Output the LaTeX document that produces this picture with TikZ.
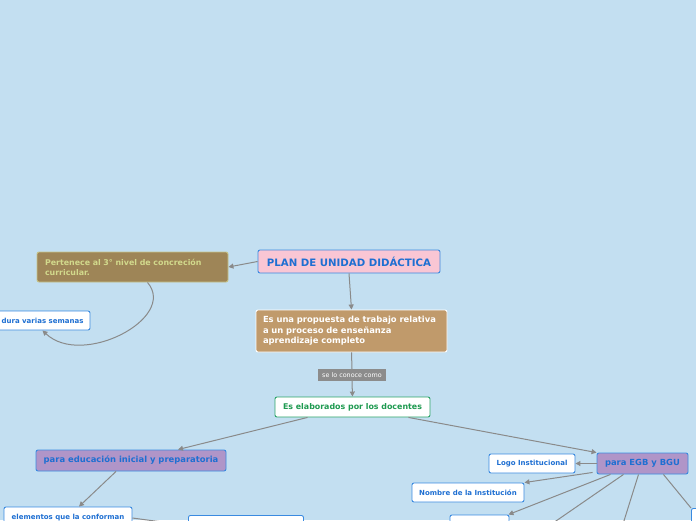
\documentclass[tikz,border=0pt]{standalone}
\usepackage{fontspec}
\setmainfont{DejaVu Sans}
\usetikzlibrary{arrows.meta,calc}
\definecolor{bg}{HTML}{C3DFF1}
\definecolor{bblue}{HTML}{3A8AE0}
\definecolor{tblue}{HTML}{1E6FD2}
\definecolor{pinkf}{HTML}{F9C6D4}
\definecolor{olivef}{HTML}{9E8557}
\definecolor{olivet}{HTML}{D2D98C}
\definecolor{olived}{HTML}{C6C48A}
\definecolor{tanf}{HTML}{C09A6B}
\definecolor{purplef}{HTML}{B095C8}
\definecolor{greenb}{HTML}{2AA468}
\definecolor{greent}{HTML}{1E9A50}
\definecolor{linec}{HTML}{8A8A8A}
\definecolor{labf}{HTML}{8C8C8C}
\tikzset{
  box/.style={draw, rounded corners=2pt, line width=0.9pt, inner sep=0pt, font=\bfseries},
  whitebox/.style={box, draw=bblue, fill=white, text=tblue, font=\bfseries\fontsize{7}{8}\selectfont},
  purplebox/.style={box, draw=bblue, fill=purplef, text=tblue, font=\bfseries\fontsize{8.4}{10}\selectfont},
  conn/.style={draw=linec, line width=1pt, -{Triangle[length=5pt,width=5pt]}},
  plain/.style={draw=linec, line width=1pt},
}
\begin{document}
\begin{tikzpicture}[x=1pt,y=-1pt]
\useasboundingbox (0,0) rectangle (696,520);
\clip (0,0) rectangle (696,520);
\fill[bg] (0,0) rectangle (696,520);

\node[box, draw=bblue, fill=pinkf, text=tblue, minimum width=182pt, minimum height=23pt, font=\bfseries\fontsize{10.2}{12}\selectfont] (root) at (349,261.5) {PLAN DE UNIDAD DIDÁCTICA};

\node[box, draw=olived, fill=olivef, text=olivet, minimum width=191pt, minimum height=30pt, text width=175pt, align=left, font=\bfseries\fontsize{7.9}{9.8}\selectfont] (pert) at (132.5,267) {Pertenece al 3° nivel de concreción\\curricular.};

\node[whitebox, minimum width=95pt, minimum height=19pt] (dura) at (42.5,320.5) {dura varias semanas};

\node[box, draw=white, fill=tanf, text=white, minimum width=191pt, minimum height=42pt, text width=177pt, align=left, font=\bfseries\fontsize{8.4}{10.6}\selectfont] (prop) at (351.5,331) {Es una propuesta de trabajo relativa\\a un proceso de enseñanza\\aprendizaje completo};

\node[box, draw=greenb, fill=white, text=greent, minimum width=155pt, minimum height=20pt, font=\bfseries\fontsize{7.9}{9}\selectfont] (elab) at (352.5,407) {Es elaborados por los docentes};

\node[purplebox, minimum width=190pt, minimum height=21pt] (ini) at (131,460.5) {para educación inicial y preparatoria};

\node[purplebox, minimum width=91pt, minimum height=21pt] (egb) at (642.5,463.5) {para EGB y BGU};

\node[whitebox, minimum width=86pt, minimum height=19pt] (logo) at (532,463.5) {Logo Institucional};
\node[whitebox, minimum width=112pt, minimum height=19pt] (nom) at (468,492.5) {Nombre de la Institución};
\node[whitebox, minimum width=59pt, minimum height=20pt] (b3) at (479.5,525) {};
\node[whitebox, minimum width=40pt, minimum height=20pt, anchor=north west] (b4) at (691,508) {};
\node[whitebox, minimum width=128pt, minimum height=22pt] (elem) at (68,518) {elementos que la conforman};
\node[whitebox, minimum width=115pt, minimum height=20pt, anchor=north west] (b5) at (188,515) {};

\coordinate (o1) at (540,532);
\coordinate (o2) at (618,540);

% connectors
\draw[conn] (root.west) -- (pert.east);
\draw[conn] ($(pert.south)+(15,0)$) .. controls (178,318) and (82,368) .. (dura.south);
\draw[conn] (root.south) -- (prop.north);
\draw[plain] (prop.south) -- (352,369);
\node[fill=labf, text=white, inner sep=1.5pt, minimum width=68pt, minimum height=12pt, font=\fontsize{6.4}{7}\selectfont] (lab) at (352,375) {se lo conoce como};
\draw[conn] (lab.south) -- (elab.north);
\draw[conn] ($(elab.south)+(-45,0)$) -- ($(ini.north)+(47,0)$);
\draw[conn] ($(elab.south)+(56,0)$) -- (egb.north west);
\draw[conn] ($(ini.south)+(-15,0)$) -- ($(elem.north)+(11,0)$);
\draw[conn] (egb.west) -- (logo.east);
\draw[conn] ($(egb.south west)+(-4,-2)$) -- (nom.north east);
\draw[conn] ($(egb.south)+(-32,0)$) -- ($(b3.north east)+(-1,0)$);
\draw[plain] ($(egb.south)+(-19,0)$) -- (o1);
\draw[plain] ($(egb.south)+(-4,0)$) -- (o2);
\draw[plain] ($(egb.south east)+(-25,0)$) -- (b4.north west);
\draw[conn] (elem.east) -- (b5.west);
\end{tikzpicture}
\end{document}
